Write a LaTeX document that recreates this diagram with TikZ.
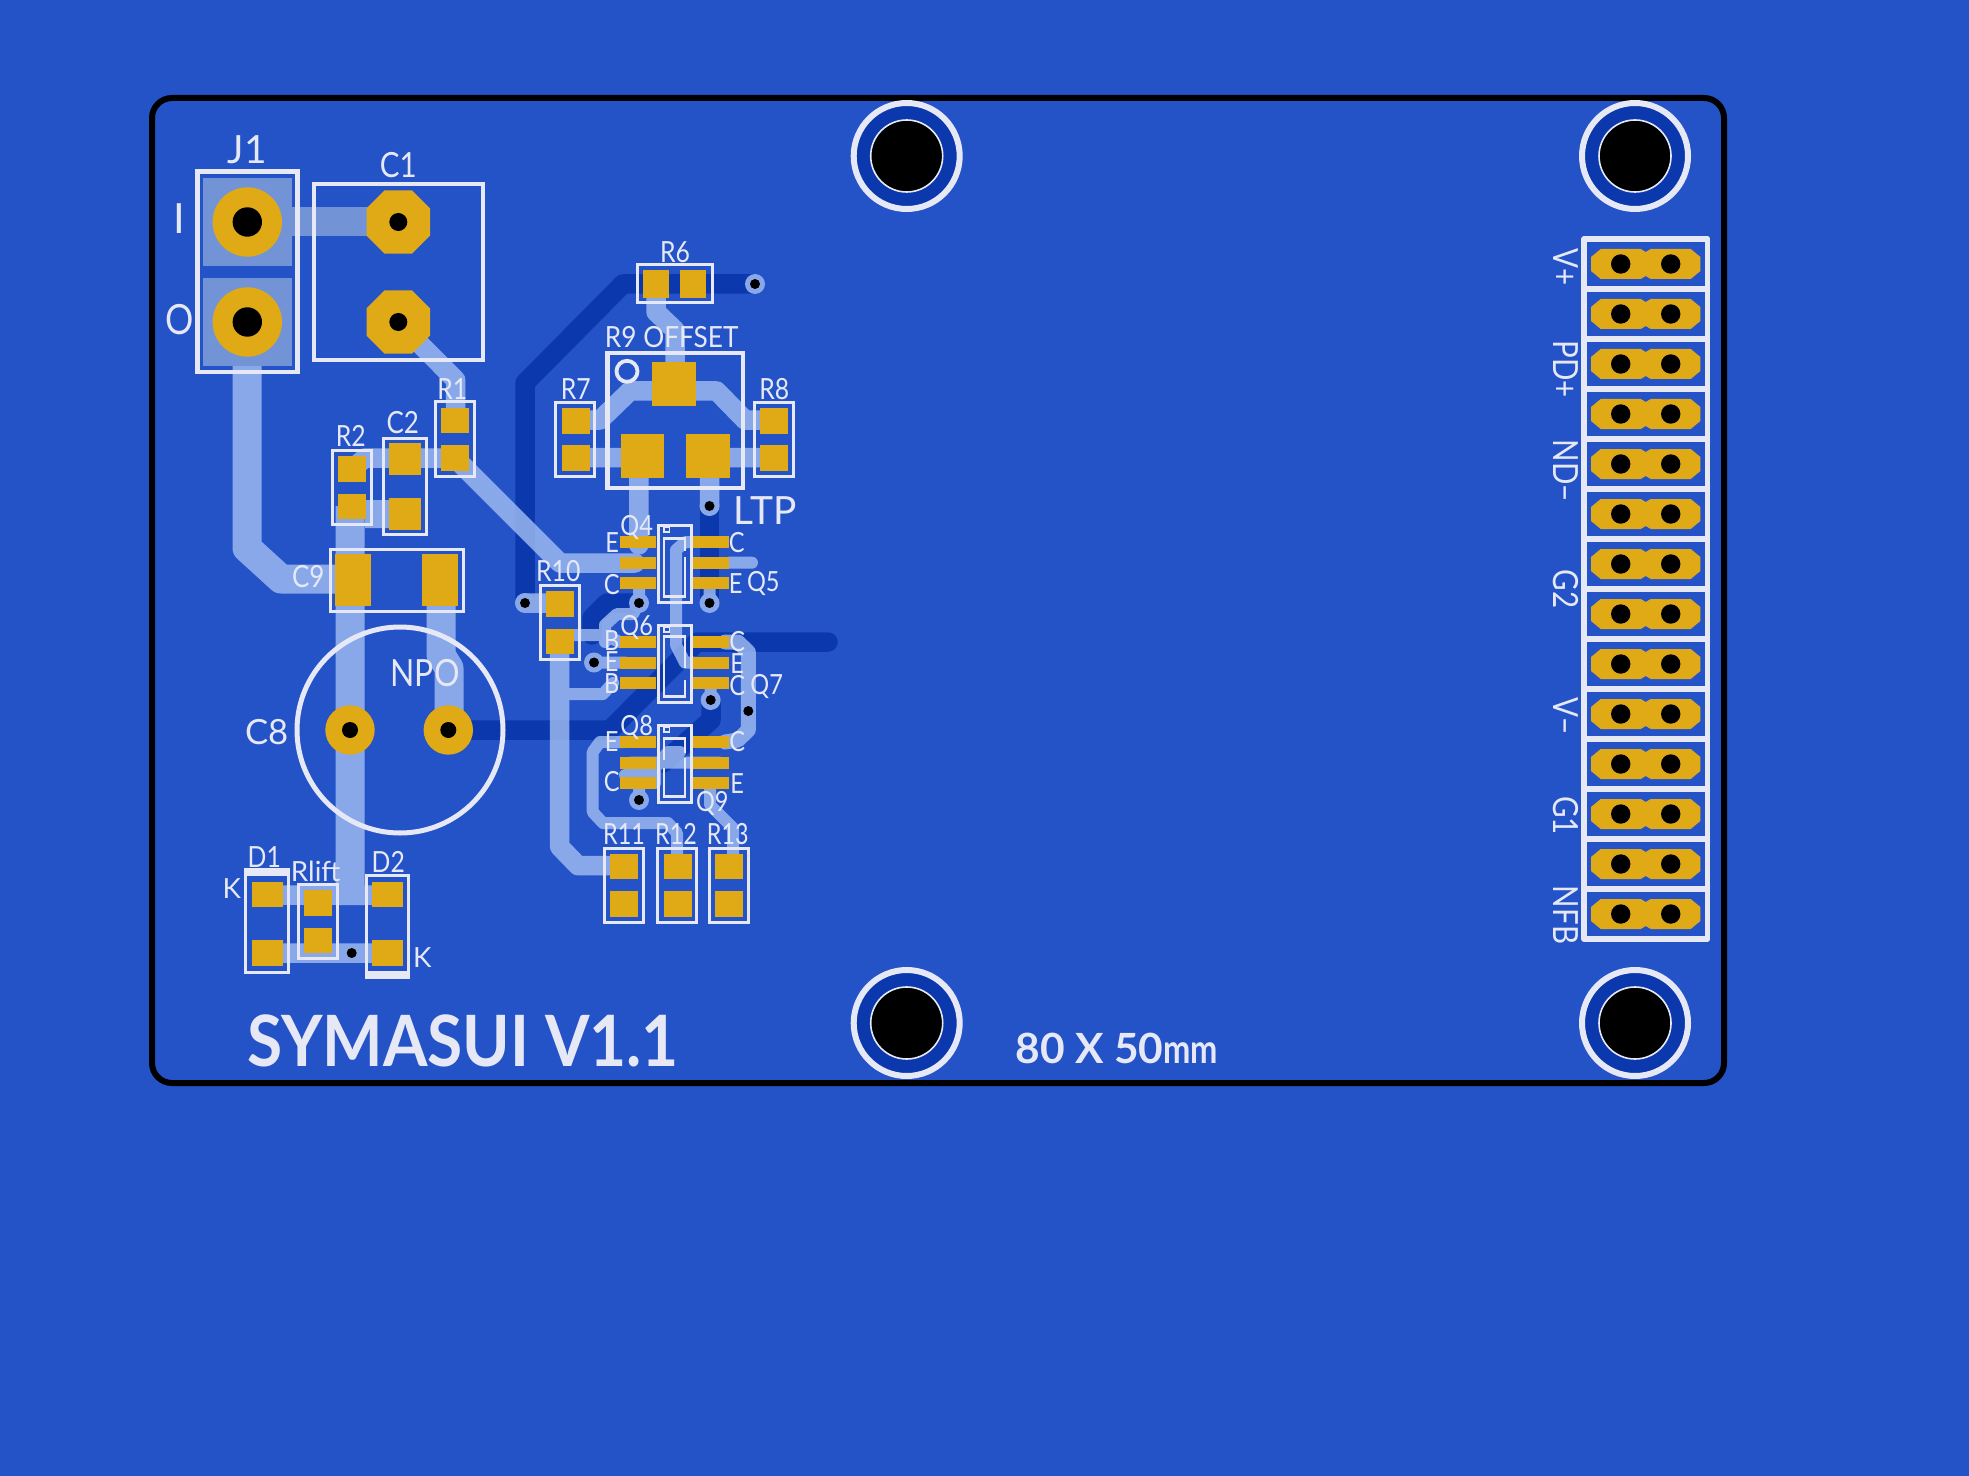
\documentclass[tikz,border=0pt]{standalone}
\usepackage{fontspec}
\setmainfont{Lato}
\definecolor{bgc}{HTML}{2453C8}
\definecolor{darkc}{HTML}{0B38AD}
\definecolor{lightc}{HTML}{9FBBF2}
\definecolor{viac}{HTML}{88A8EA}
\definecolor{midc}{HTML}{7294D6}
\definecolor{padc}{HTML}{E0A916}
\definecolor{silk}{HTML}{E6E9F5}
\tikzset{
  x=0.5pt,y=-0.5pt,
  dk/.style={draw=darkc,line width=9.75pt,line cap=round,line join=round},
  lt/.style={draw=lightc,line width=9.75pt,line cap=round,line join=round},
  lts/.style={draw=lightc,line width=6pt,line cap=round,line join=round},
  ltt/.style={draw=lightc,line width=14.5pt,line join=round},
  silk thin/.style={draw=silk,line width=1.5pt},
  silk thick/.style={draw=silk,line width=2.3pt},
  pin/.style={fill=padc},
  drill/.style={fill=black},
}
\newcommand\hs{0.85}
\newcommand\lab[6][0]{\pgfmathsetmacro\fsz{#5*0.694}\pgfmathsetmacro\hgt{#5*0.5}%
  \node[text=silk,inner sep=0pt,rotate=#1,text height=\hgt pt,text depth=0pt] (#2) at (#3,#4) {\fontsize{\fsz pt}{\fsz pt}\selectfont\scalebox{\hs}[1]{#6}};}
\newcommand\padr[4]{\fill[pin] (#1,#2) rectangle (#3,#4);}
\newcommand\via[2]{\fill[viac] (#1,#2) circle (10);\fill[drill] (#1,#2) circle (5);}
\newcommand\res[2]{% left x, top y: vertical 0805 footprint
  \draw[silk thin] (#1,#2) rectangle (#1+39,#2+74);
  \padr{#1+6}{#2+5.7}{#1+34}{#2+31.3}\padr{#1+6}{#2+43}{#1+34}{#2+68.7}}
\newcommand\soic[1]{% top y of the package
  \foreach \r in {18.3,38.7,59}{
    \padr{620}{#1+\r-6}{656}{#1+\r+6}\padr{693.3}{#1+\r-6}{729.3}{#1+\r+6}}
  \draw[silk thin] (658,#1+1.5) rectangle (691.5,#1+78);
  \draw[draw=silk,line width=0.9pt] (664,#1+3) rectangle (669.5,#1+8);}
\newcommand\hole[2]{%
  \draw[draw=silk,line width=3pt,fill=darkc] (#1,#2) circle (53);
  \draw[draw=silk,line width=0.8pt,fill=black] (#1,#2) circle (36);}
\begin{document}
\begin{tikzpicture}
\useasboundingbox (0,0) rectangle (1969,1476);
\fill[bgc] (0,0) rectangle (1969,1476);
% board outline
\draw[black,line width=3pt,rounded corners=10pt] (152,98) rectangle (1724,1083);
% bottom copper
\draw[dk] (755,284) -- (623,284) -- (525,383) -- (525,603);
\draw[dk] (448,730) -- (610,730) -- (697,642) -- (828,642);
\draw[dk] (711,700) -- (711,720) -- (663,763);
\draw[dk] (639,603) -- (607,603) -- (592,618) -- (592,635);
\draw[dk] (709.5,506) -- (709.5,603);
% top copper (translucent over bottom copper)
\begin{scope}[transparency group,opacity=0.82]
\draw[ltt] (247,322) -- (247,548) -- (281,579) -- (352,579);
\draw[ltt] (350,506) -- (350,905);
\draw[ltt] (441,600) -- (441,655) -- (449,668) -- (449,730);
\draw[lt] (267,895) -- (387,895);
\draw[lt] (267,953) -- (387,953);
\draw[lt] (398,322) -- (455.7,380) -- (455.7,410);
\draw[lt] (352,469) -- (365,458) -- (455,458) -- (560,563) -- (635,563);
\fill[lightc] (365,500) rectangle (405,528);
\draw[lt] (656,285) -- (656,312) -- (675,330) -- (675,380);
\draw[lt] (675,391) -- (630,391) -- (600,420) -- (575,420);
\draw[lt] (675,391) -- (716.7,391) -- (745,420) -- (773,420);
\draw[lt] (575,457.7) -- (640,457.7);
\draw[lt] (708,457.7) -- (773,457.7);
\draw[lt] (638.8,470) -- (638.8,545);
\draw[lt] (709.5,470) -- (709.5,506);
\draw[lt] (525,603) -- (555,603);
\draw[lt] (559.7,640) -- (559.7,846.7) -- (578,865.7) -- (623,865.7);
\draw[lts] (559.7,694) -- (603,694) -- (613,683);
\draw[lts] (560,635) -- (603,635) -- (620,642);
\draw[lts] (605,642) -- (605,625) -- (617,614) -- (633,614) -- (639,603);
\draw[lts] (594,662.5) -- (625,662.5);
\draw[lts] (729,562.7) -- (752,562.7);
\draw[lts] (639,583) -- (639,603);
\draw[lts] (709.5,583) -- (709.5,603);
\draw[lts] (710.7,683) -- (710.7,700);
\draw[lts] (639,783) -- (639,800);
\draw[lts] (693,542) -- (685,542) -- (676,550) -- (676,645) -- (685,662.7) -- (695,662.7);
\draw[draw=lightc,line width=7.5pt,line cap=round,line join=round] (725,642) -- (738,642) -- (748.3,652) -- (748.3,730) -- (738,740) -- (725,742);
\draw[lts] (625,742) -- (600,742) -- (592.7,752) -- (592.7,812) -- (603,823) -- (668,823) -- (677,833) -- (677,860);
\draw[lts] (630,762.7) -- (720,762.7);
\draw[lts] (680,752) -- (668,752) -- (655,768) -- (655,783);
\draw[lts] (625,775) -- (655,775);
\draw[lts] (710,783) -- (710,805) -- (733,828) -- (733,860);
\end{scope}
% vias
\via{755}{284}\via{525}{603}\via{709.5}{506}\via{709.5}{603}\via{639}{603}
\via{594}{662.5}\via{710.7}{700}\via{639}{800}
\fill[drill] (351.7,953) circle (5);
\fill[drill] (748.3,711) circle (5);
% J1 soldermask windows
\fill[midc] (203,178) rectangle (292,266);
\fill[midc] (203,278) rectangle (292,366);
\fill[midc] (285,207.5) rectangle (400,236.5);
% J1 pads
\foreach \yy in {222,322}{
  \fill[pin] (247.3,\yy) circle (34.7);
  \fill[drill] (247.3,\yy) circle (14.7);
}
% C1 pads
\foreach \yy in {222,322}{
  \fill[pin,shift={(398.3,\yy)}] (-13.7,-31.7) -- (13.7,-31.7) -- (31.7,-13.7) -- (31.7,13.7) -- (13.7,31.7) -- (-13.7,31.7) -- (-31.7,13.7) -- (-31.7,-13.7) -- cycle;
  \fill[drill] (398.3,\yy) circle (9);
}
% silkscreen boxes
\draw[silk thick] (197.5,171.5) rectangle (297.5,372);
\draw[silk thick] (314,184) rectangle (483,360);
% C8
\draw[draw=silk,line width=2.5pt] (400,730) circle (103);
\foreach \xx in {350,448.3}{
  \fill[pin] (\xx,730) circle (24.7);
  \fill[drill] (\xx,730) circle (8);
}
% C9
\padr{335}{554}{371}{606}\padr{422}{554}{458}{606}
\draw[silk thin] (330,549.5) rectangle (463,611);
% C2
\padr{389}{443.3}{420.7}{475}\padr{389}{498.3}{420.7}{530}
\draw[silk thin] (383.5,438) rectangle (426,534.8);
% resistors
\res{435.3}{402}\res{332.3}{450.6}\res{555.6}{402.3}\res{754.3}{402.3}
\res{540.3}{585.6}\res{604.3}{848}\res{657.6}{848}\res{709}{848}\res{298}{884.6}
% R6
\padr{643.3}{270}{668.7}{297.7}\padr{680.3}{270}{706}{297.7}
\draw[silk thin] (637,264.5) rectangle (712,303);
% R9
\padr{652}{362.3}{695.7}{405.7}\padr{620.7}{434}{664.3}{478}\padr{686}{434}{730}{478}
\draw[silk thick] (607.5,353) rectangle (743,488);
\draw[draw=silk,line width=1.9pt] (627,371.3) circle (10.5);
% D1, D2
\padr{251.7}{881.7}{283}{906.7}\padr{251.7}{940}{283}{966}
\draw[silk thin] (245.5,870) rectangle (288.7,972);
\fill[silk] (244.3,868.3) rectangle (290,876);
\padr{372}{881.7}{403.3}{906.7}\padr{372}{940}{403.3}{966}
\draw[silk thin] (366.5,875.5) rectangle (408.8,977);
\fill[silk] (365.3,970.7) rectangle (410,978.3);
% transistors
\soic{524}\soic{624}\soic{724}
\begin{scope}[line width=1.1pt]
\draw[draw=silk] (685,551) -- (685,538.5) -- (664,538.5) -- (664,596.5) -- (685,596.5) -- (685,556.5);
\draw[draw=silk] (685,668) -- (685,636.5) -- (664,636.5) -- (664,696.5) -- (685,696.5) -- (685,680);
\draw[draw=silk] (664,760) -- (664,738.5) -- (685,738.5) -- (685,753);
\draw[draw=silk] (685,758) -- (685,796.5) -- (664,796.5) -- (664,768);
\end{scope}
% header
\foreach \k in {0,...,13}{
  \pgfmathsetmacro\yy{264+50*\k}
  \fill[pin,shift={(1645.7,\yy)}] (-54.7,-7) -- (-45,-15) -- (-5,-15) -- (0,-12) -- (5,-15) -- (45,-15) -- (54.7,-7) -- (54.7,7) -- (45,15) -- (5,15) -- (0,12) -- (-5,15) -- (-45,15) -- (-54.7,7) -- cycle;
  \fill[drill] (1620.7,\yy) circle (9.7);
  \fill[drill] (1670.7,\yy) circle (9.7);
}
\draw[draw=silk,line width=2.7pt,line join=round] (1584,239) rectangle (1707.7,939);
\foreach \k in {1,...,13}{
  \draw[draw=silk,line width=2.7pt] (1584,239+50*\k) -- (1707.7,239+50*\k);
}
% mounting holes
\hole{906.7}{156}\hole{1635}{156}\hole{906.7}{1023}\hole{1635}{1023}
% labels
\renewcommand\hs{1}
\lab{lJ1}{247.3}{150}{28}{J1}
\lab{lLTP}{765}{510.7}{28}{LTP}
\lab{lC8}{266.7}{731.7}{25}{C8}
\lab{lRlift}{315.7}{871.7}{20}{Rlift}
\lab{lKa}{231.7}{888.3}{20}{K}
\lab{lKb}{422.3}{957.7}{20}{K}
\lab{lI}{179.3}{219}{30}{I}
\renewcommand\hs{0.85}
\lab{lC1}{398.3}{165}{25}{C1}
\lab{lO}{180}{320}{30}{O}
\lab{lR1}{452.3}{389}{21}{R1}
\lab{lR2}{350.7}{436}{21}{R2}
\lab{lC2}{402.7}{422.7}{22}{C2}
\lab{lC9}{308.3}{576.7}{22}{C9}
\lab{lNPO}{425}{673}{27}{NPO}
\lab{lD1}{264.3}{856.7}{21}{D1}
\lab{lD2}{388.3}{861.7}{21}{D2}
\lab{lR6}{675}{251.7}{21}{R6}
\lab{lR7}{575.7}{389.3}{21}{R7}
\lab{lR8}{774.3}{389.3}{21}{R8}
\lab{lR10}{558.3}{570.7}{21}{R10}
\lab{lQ4}{636.7}{525.7}{20}{Q4}
\lab{lQ4e}{612.3}{542.3}{20}{E}
\lab{lQ4c}{611.7}{584.3}{20}{C}
\lab{lQ5c}{736.7}{542.3}{20}{C}
\lab{lQ5e}{735.7}{583.3}{20}{E}
\lab{lQ5}{763.3}{581.7}{20}{Q5}
\lab{lQ6}{636.7}{625.7}{20}{Q6}
\lab{lQ6b}{611.7}{640}{20}{B}
\lab{lQ6e}{611.7}{661.7}{20}{E}
\lab{lQ6f}{611.7}{683.3}{20}{B}
\lab{lQ7c}{737.3}{641.7}{20}{C}
\lab{lQ7e}{737.3}{663.3}{20}{E}
\lab{lQ7d}{737.3}{685.7}{20}{C}
\lab{lQ7}{766.7}{684.3}{20}{Q7}
\lab{lQ8}{636.7}{725.7}{20}{Q8}
\lab{lQ8e}{611.7}{741.7}{20}{E}
\lab{lQ8c}{611.7}{781}{20}{C}
\lab{lQ9c}{737.3}{741.7}{20}{C}
\lab{lQ9e}{737.3}{783.3}{20}{E}
\lab{lQ9}{712.3}{801.7}{20}{Q9}
\lab[-90]{lVp}{1566}{267}{25}{V+}
\lab[-90]{lPD}{1566}{369}{25}{PD+}
\lab[-90]{lND}{1566}{471}{25}{ND−}
\lab[-90]{lG2}{1566}{589}{25}{G2}
\lab[-90]{lVm}{1566}{716}{25}{V−}
\lab[-90]{lG1}{1566}{815.5}{25}{G1}
\lab[-90]{lNFB}{1566}{915}{25}{NFB}
\renewcommand\hs{0.9}
\lab{lR9}{671.7}{336.7}{21}{R9 OFFSET}
\renewcommand\hs{0.8}
\lab{lR11}{624}{834.3}{21}{R11}
\lab{lR12}{676}{834.3}{21}{R12}
\lab{lR13}{727.7}{834.3}{21}{R13}
\renewcommand\hs{0.905}
\lab{lTitle}{463}{1040.5}{51}{\bfseries SYMASUI V1.1}
\renewcommand\hs{1.02}
\lab{lSize}{1117}{1048}{30}{\bfseries 80 X 50{\fontsize{20pt}{20pt}\selectfont\scalebox{0.8}[1]{mm}}}
\end{tikzpicture}
\end{document}
